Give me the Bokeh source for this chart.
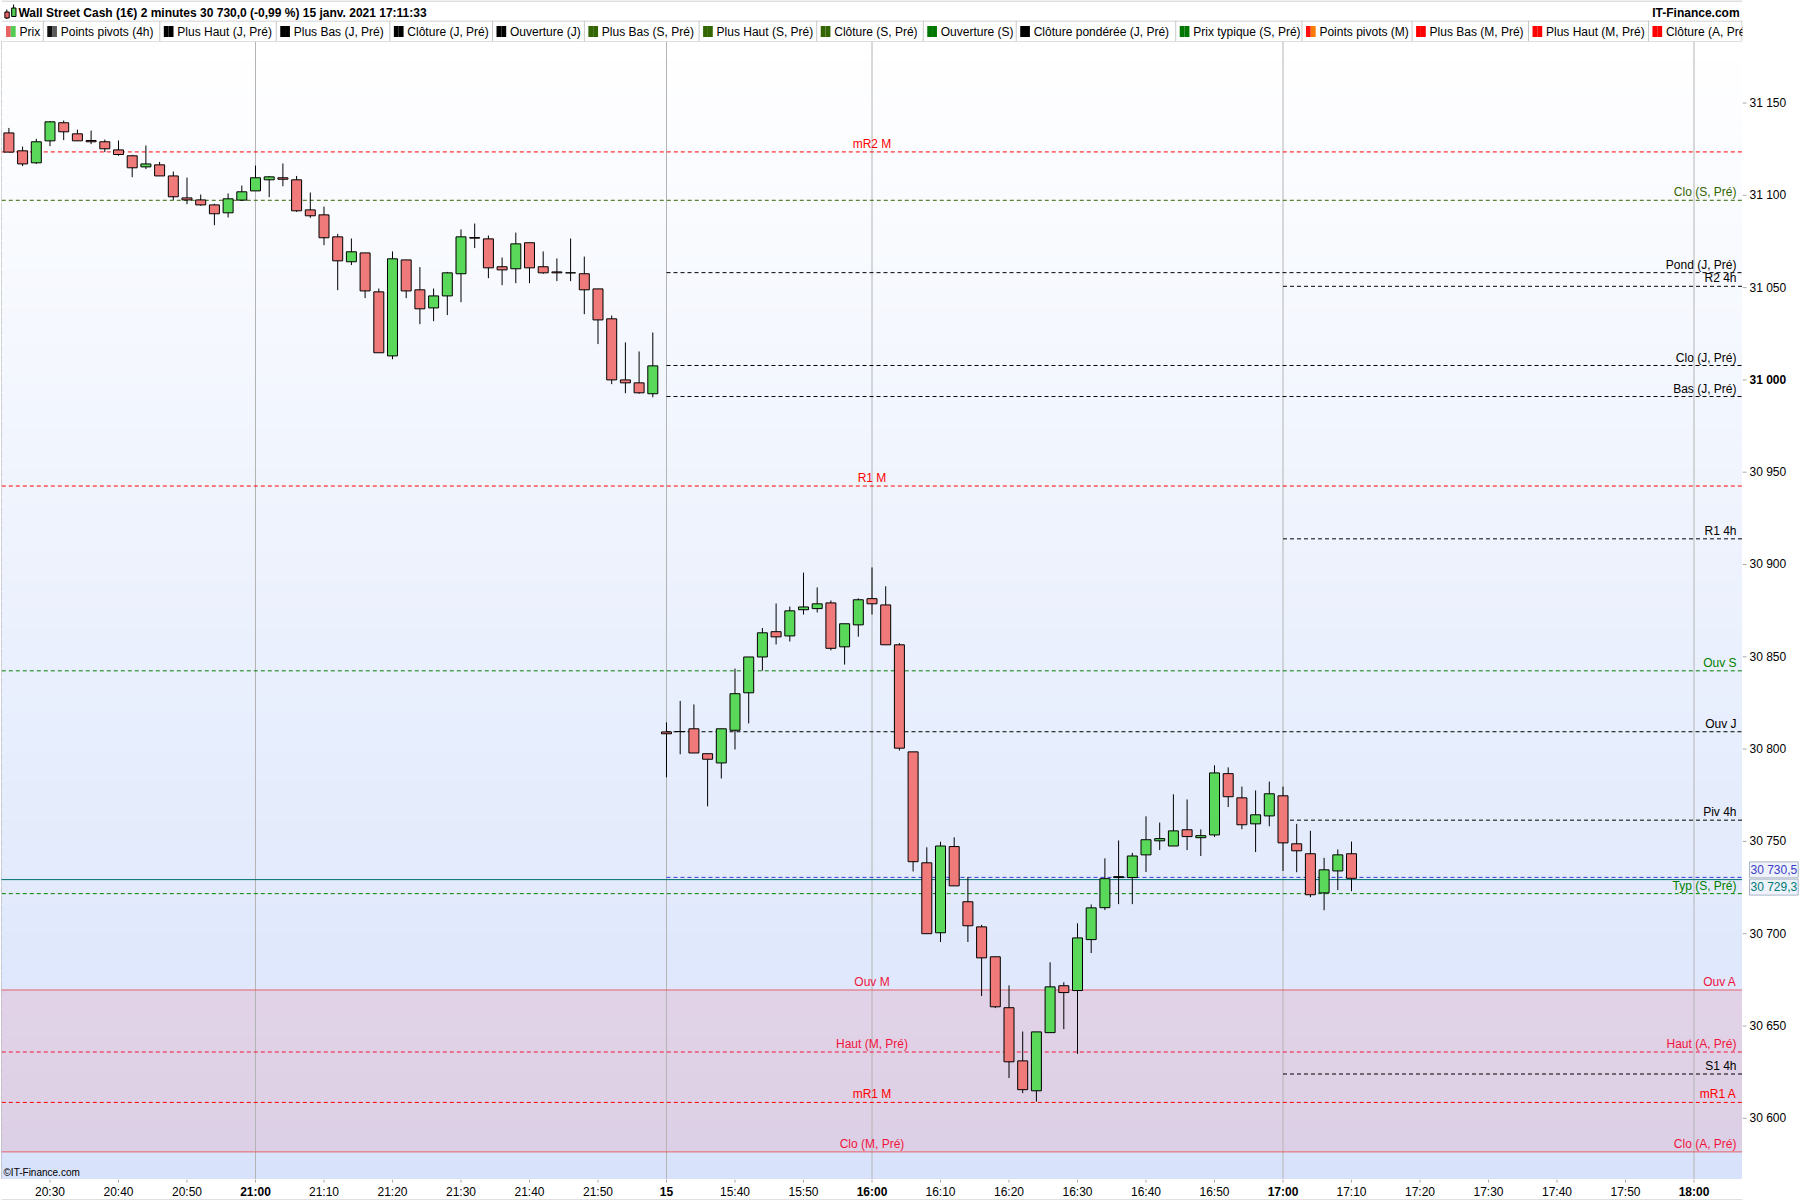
import numpy as np
from bokeh.plotting import figure
from bokeh.layouts import column, row
from bokeh.models import Range1d, ColumnDataSource
from bokeh.core.properties import value
from bokeh.embed import file_html
from bokeh.resources import INLINE

FONT = value("Liberation Sans")

# ---------------- texts ----------------
TITLE = "Wall Street Cash (1€) 2 minutes 30 730,0 (-0,99 %) 15 janv. 2021 17:11:33"
SITE = "IT-Finance.com"
COPYRIGHT = "©IT-Finance.com"


def session(h, m, n):
    return [f"{(h * 60 + m + 2 * k) // 60:02d}:{(h * 60 + m + 2 * k) % 60:02d}" for k in range(n)]


# 2-minute bars: 14 Jan 20:24-21:58, then 15 Jan from 15:30
axis_times = session(20, 24, 48) + session(15, 30, 79)

# ---------------- candles (O/H/L/C) ----------------
opens = [31133.8, 31124.1, 31117.6, 31129.5, 31139.3, 31133.3, 31129.7, 31129.0, 31124.6, 31121.4,
         31115.4, 31116.5, 31110.5, 31098.6, 31097.5, 31094.8, 31090.5, 31097.4, 31102.4, 31108.4,
         31109.5, 31108.4, 31092.1, 31089.4, 31077.5, 31064.0, 31068.8, 31047.7, 31013.0, 31065.0,
         31048.8, 31039.0, 31045.5, 31057.5, 31077.1, 31076.4, 31061.3, 31060.2, 31074.3, 31061.3,
         31058.5, 31058.0, 31057.5, 31049.3, 31033.1, 31000.0, 30998.4, 30992.5,
         30809.3, 30809.5, 30811.0, 30797.5, 30792.5, 30810.2, 30830.5, 30849.9, 30863.6, 30861.3,
         30875.5, 30876.1, 30879.2, 30855.4, 30867.3, 30881.5, 30878.1, 30856.5, 30798.5, 30738.4,
         30700.5, 30747.2, 30717.3, 30703.7, 30687.5, 30659.9, 30631.1, 30614.9, 30646.4, 30671.8,
         30669.2, 30696.8, 30714.1, 30730.4, 30730.4, 30742.7, 30750.3, 30747.5, 30756.3, 30752.0,
         30753.5, 30786.7, 30773.6, 30759.5, 30763.8, 30774.7, 30748.7, 30743.3, 30722.1, 30734.0,
         30743.3]
highs = [31136.5, 31126.4, 31130.6, 31140.2, 31140.5, 31135.6, 31135.1, 31130.2, 31129.7, 31121.9,
         31127.0, 31118.1, 31112.9, 31109.6, 31100.4, 31095.4, 31101.0, 31105.3, 31116.1, 31110.5,
         31117.2, 31110.5, 31101.5, 31093.9, 31079.1, 31076.6, 31068.8, 31049.5, 31069.6, 31065.0,
         31061.1, 31049.5, 31058.5, 31081.5, 31084.7, 31078.2, 31066.3, 31079.8, 31074.3, 31069.6,
         31065.8, 31076.6, 31066.8, 31049.3, 31034.9, 31020.3, 31015.4, 31025.7,
         30814.5, 30826.1, 30824.2, 30797.5, 30811.0, 30843.6, 30849.9, 30865.6, 30878.9, 30877.2,
         30895.6, 30887.6, 30880.5, 30867.9, 30881.7, 30898.4, 30888.2, 30857.4, 30798.5, 30746.8,
         30749.8, 30752.2, 30730.6, 30704.8, 30687.5, 30672.0, 30647.0, 30646.8, 30684.5, 30673.7,
         30705.6, 30715.8, 30740.8, 30750.5, 30743.8, 30763.6, 30760.2, 30775.5, 30772.7, 30756.5,
         30791.2, 30790.1, 30779.7, 30777.6, 30782.4, 30779.7, 30759.5, 30755.7, 30741.1, 30745.6,
         30749.9]
lows = [31123.4, 31115.8, 31117.0, 31126.6, 31129.9, 31129.5, 31127.7, 31123.4, 31121.4, 31109.8,
        31114.2, 31110.4, 31097.5, 31095.2, 31094.3, 31083.8, 31088.0, 31097.2, 31102.4, 31099.0,
        31104.9, 31091.0, 31087.8, 31073.0, 31048.6, 31062.2, 31044.3, 31014.7, 31011.2, 31044.3,
        31030.2, 31031.8, 31035.1, 31042.1, 31071.4, 31055.1, 31051.3, 31052.4, 31052.4, 31057.5,
        31053.5, 31053.5, 31035.6, 31019.4, 30997.7, 30992.8, 30992.5, 30990.6,
        30784.7, 30797.2, 30797.9, 30769.0, 30784.1, 30799.8, 30813.9, 30842.5, 30856.7, 30858.3,
        30872.9, 30874.0, 30853.5, 30845.8, 30860.9, 30872.9, 30856.5, 30799.2, 30733.7, 30700.0,
        30695.5, 30725.9, 30695.5, 30666.2, 30659.7, 30621.8, 30613.6, 30609.0, 30646.4, 30648.3,
        30634.9, 30689.5, 30712.8, 30716.0, 30716.0, 30733.4, 30745.3, 30747.5, 30745.3, 30742.1,
        30752.4, 30768.6, 30756.6, 30744.2, 30758.2, 30734.0, 30733.3, 30719.8, 30712.7, 30723.6,
        30723.0]
closes = [31123.4, 31117.0, 31129.0, 31139.8, 31134.4, 31129.5, 31129.0, 31125.2, 31122.1, 31114.9,
          31117.0, 31110.5, 31099.2, 31097.5, 31094.8, 31090.0, 31098.1, 31101.9, 31109.5, 31110.0,
          31108.7, 31091.6, 31088.9, 31077.0, 31064.5, 31069.4, 31048.2, 31014.7, 31065.6, 31048.2,
          31038.5, 31045.5, 31058.0, 31077.5, 31076.8, 31060.7, 31059.6, 31073.7, 31060.7, 31058.0,
          31058.0, 31058.0, 31048.8, 31032.5, 31000.0, 30998.4, 30993.0, 31007.6,
          30808.3, 30809.5, 30797.9, 30794.5, 30811.0, 30830.0, 30849.9, 30863.0, 30860.8, 30874.9,
          30877.0, 30878.7, 30854.6, 30867.9, 30880.9, 30878.7, 30856.5, 30800.5, 30739.0, 30700.0,
          30747.5, 30725.9, 30704.3, 30686.9, 30660.4, 30630.6, 30615.5, 30646.8, 30671.2, 30668.1,
          30697.7, 30714.0, 30729.8, 30730.9, 30742.1, 30750.9, 30751.5, 30755.7, 30752.6, 30753.1,
          30787.1, 30774.2, 30759.0, 30764.4, 30775.8, 30749.2, 30744.9, 30721.1, 30734.6, 30742.7,
          30730.0]

# ---------------- x axis ticks ----------------
tick_times = ["20:30", "20:40", "20:50", "21:00", "21:10", "21:20", "21:30", "21:40", "21:50",
              "15:30", "15:40", "15:50", "16:00", "16:10", "16:20", "16:30", "16:40", "16:50",
              "17:00", "17:10", "17:20", "17:30", "17:40", "17:50", "18:00"]
tick_labels = ["20:30", "20:40", "20:50", "21:00", "21:10", "21:20", "21:30", "21:40", "21:50",
               "15", "15:40", "15:50", "16:00", "16:10", "16:20", "16:30", "16:40", "16:50",
               "17:00", "17:10", "17:20", "17:30", "17:40", "17:50", "18:00"]
major_tick_labels = ["21:00", "15", "16:00", "17:00", "18:00"]

# ---------------- y axis ticks ----------------
price_ticks = [30600, 30650, 30700, 30750, 30800, 30850, 30900, 30950, 31000, 31050, 31100, 31150]
major_price_ticks = [31000]

# ---------------- horizontal levels ----------------
level_values = [31123.5, 31097.3, 31058.1, 31050.7, 31007.8, 30991.0, 30942.5, 30913.9, 30842.4,
                30809.4, 30761.5, 30730.5, 30729.3, 30721.7, 30669.5, 30635.9, 30624.0, 30608.6,
                30581.8]
level_start = ["", "", "15:30", "17:00", "15:30", "15:30", "", "17:00", "",
               "15:30", "17:00", "15:30", "", "", "", "", "17:00", "",
               ""]
level_dashed = [True, True, True, True, True, True, True, True, True,
                True, True, True, False, True, False, True, True, True,
                False]
level_colors = ["#ff0000", "#336600", "#000000", "#000000", "#000000", "#000000", "#ff0000", "#000000",
                "#008000", "#000000", "#000000", "#3a3ad8", "#007070", "#008000", "#e8606a", "#f0143c",
                "#000000", "#ff0000", "#e8606a"]
level_right_labels = ["", "Clo (S, Pré)", "Pond (J, Pré)", "R2 4h", "Clo (J, Pré)", "Bas (J, Pré)", "",
                      "R1 4h", "Ouv S", "Ouv J", "Piv 4h", "", "", "Typ (S, Pré)", "Ouv A",
                      "Haut (A, Pré)", "S1 4h", "mR1 A", "Clo (A, Pré)"]
level_center_labels = ["mR2 M", "", "", "", "", "", "R1 M", "", "", "", "", "", "", "", "Ouv M",
                       "Haut (M, Pré)", "", "mR1 M", "Clo (M, Pré)"]
level_label_colors = ["#ff0000", "#336600", "#000000", "#000000", "#000000", "#000000", "#ff0000",
                      "#000000", "#008000", "#000000", "#000000", "#3a3ad8", "#007070", "#008000",
                      "#f0143c", "#f0143c", "#000000", "#ff0000", "#f0143c"]
center_label_time = "16:00"
zone_top_value = 30669.5      # Ouv M / Ouv A
zone_bottom_value = 30581.8   # Clo (M, Pré) / Clo (A, Pré)

price_boxes = ["30 730,5", "30 729,3"]
price_box_values = [30730.5, 30729.3]
price_box_colors = ["#3c3cc8", "#007a76"]

# ---------------- legend ----------------
legend_names = ["Prix", "Points pivots (4h)", "Plus Haut (J, Pré)", "Plus Bas (J, Pré)", "Clôture (J, Pré)",
                "Ouverture (J)", "Plus Bas (S, Pré)", "Plus Haut (S, Pré)", "Clôture (S, Pré)",
                "Ouverture (S)", "Clôture pondérée (J, Pré)", "Prix typique (S, Pré)",
                "Points pivots (M)", "Plus Bas (M, Pré)", "Plus Haut (M, Pré)", "Clôture (A, Pré)"]
legend_color_a = ["#e86464", "#111111", "#000000", "#000000", "#000000", "#000000", "#336600", "#336600",
                  "#336600", "#007700", "#000000", "#007700", "#ff1010", "#ff0000", "#ff0000", "#ff0000"]
legend_color_b = ["#52cc52", "#5a5a5a", "#000000", "#000000", "#000000", "#000000", "#336600", "#336600",
                  "#336600", "#007700", "#000000", "#007700", "#ff7a00", "#ff0000", "#ff0000", "#ff0000"]
# layout (page px): left edge of each legend cell
legend_cell_x = [0, 41.3, 157.9, 274.4, 388.1, 490.8, 582.7, 697.5, 815.2, 921.8, 1014.8, 1174.4,
                 1300.7, 1410.9, 1527.4, 1647.4]

# =====================================================================
W = 1800
AXIS_W = 58
MAIN_H = 1138


def make_fig(**kw):
    opts = dict(output_backend="svg", toolbar_location=None, x_axis_location=None,
                y_axis_location=None, min_border_left=0, min_border_right=0,
                min_border_top=0, min_border_bottom=0)
    opts.update(kw)
    f = figure(**opts)
    f.grid.grid_line_color = None
    f.outline_line_color = None
    f.background_fill_color = "white"
    f.border_fill_color = "white"
    return f


# ---------------- title row ----------------
tf = make_fig(width=W, height=20, x_range=Range1d(0, W), y_range=Range1d(20, 0))
tf.segment(x0=[0], y0=[0.5], x1=[W], y1=[0.5], line_color="#c0c0c0", line_width=1)
tf.segment(x0=[5.5], y0=[9], x1=[5.5], y1=[18.5], line_color="black", line_width=1)
tf.quad(left=[3.5], right=[8], top=[11.5], bottom=[17.5], fill_color="#e86464", line_color="black")
tf.segment(x0=[12.5], y0=[4], x1=[12.5], y1=[16.5], line_color="black", line_width=1)
tf.quad(left=[10.5], right=[15], top=[7.5], bottom=[16], fill_color="#52cc52", line_color="black")
tf.text(x=[17.5], y=[12], text=[TITLE], text_font=FONT, text_font_size="12px",
        text_font_style="bold", text_baseline="middle", text_align="left", text_color="black")
tf.text(x=[1797], y=[12], text=[SITE], text_font=FONT, text_font_size="12px",
        text_font_style="bold", text_baseline="middle", text_align="right", text_color="black")

# ---------------- legend row ----------------
lf = make_fig(width=W, height=21, x_range=Range1d(0, W - AXIS_W), y_range=Range1d(41, 20),
              min_border_right=AXIS_W)
lf.segment(x0=[0], y0=[20.5], x1=[W], y1=[20.5], line_color="#c4c4c4", line_width=1)
cells = np.array(legend_cell_x, dtype=float)
seps = list(cells[1:] + 0.5) + [1741.5]
lf.segment(x0=seps, y0=[20] * len(seps), x1=seps, y1=[41] * len(seps), line_color="#c8c8c8", line_width=1)
lf.quad(left=cells + 4.5, right=cells + 9.3, top=[25.5] * len(cells), bottom=[36.5] * len(cells),
        fill_color=legend_color_a, line_color=None)
lf.quad(left=cells + 9.3, right=cells + 14.2, top=[25.5] * len(cells), bottom=[36.5] * len(cells),
        fill_color=legend_color_b, line_color=None)
lf.text(x=cells + 18, y=[31.5] * len(cells), text=legend_names, text_font=FONT, text_font_size="12px",
        text_baseline="middle", text_align="left", text_color="black")

# ---------------- main plot ----------------
x_rng = Range1d(-0.54, 126.54)
y_rng = Range1d(30566.84, 31183.32)
main = make_fig(width=W - AXIS_W, height=MAIN_H, x_range=x_rng, y_range=y_rng, min_border_left=1)
main.outline_line_color = "#a8a8a8"

xl, xr = x_rng.start - 1, x_rng.end + 1

# background gradient (white -> light blue)
n = 120
edges = np.linspace(y_rng.end, y_rng.start, n + 1)
c_top = np.array([255, 255, 255])
c_bot = np.array([216, 227, 251])
grad = ["#%02x%02x%02x" % tuple(int(round(v)) for v in c_top + (c_bot - c_top) * t)
        for t in (np.arange(n) + 0.5) / n]
main.quad(left=[xl] * n, right=[xr] * n, top=edges[:-1], bottom=edges[1:], fill_color=grad,
          line_color=grad, line_width=1)

# monthly zone
main.quad(left=[xl], right=[xr], top=[zone_top_value], bottom=[zone_bottom_value],
          fill_color="#f06070", fill_alpha=0.15, line_color=None)

# vertical grid at session / hour boundaries
grid_x = [axis_times.index(tick_times[tick_labels.index(lbl)]) for lbl in major_tick_labels]
main.segment(x0=grid_x, y0=[y_rng.start] * len(grid_x), x1=grid_x, y1=[y_rng.end] * len(grid_x),
             line_color="#b4b4b4", line_width=1)

# levels
lv_x0 = [xl if s == "" else axis_times.index(s) for s in level_start]
for dashed in (True, False):
    sel = [i for i in range(len(level_values)) if level_dashed[i] == dashed]
    src = ColumnDataSource(dict(x0=[lv_x0[i] for i in sel], x1=[xr] * len(sel),
                                y=[level_values[i] for i in sel], c=[level_colors[i] for i in sel]))
    main.segment(x0="x0", y0="y", x1="x1", y1="y", line_color="c", line_width=1, source=src,
                 line_dash="4 3" if dashed else "solid")

# candles
idx = list(range(len(opens)))
up = [c >= o for o, c in zip(opens, closes)]
csrc = ColumnDataSource(dict(
    x=idx, low=lows, high=highs,
    top=[max(o, c) for o, c in zip(opens, closes)],
    bottom=[min(o, c) for o, c in zip(opens, closes)],
    color=["#5ad85a" if u else "#f07a7a" for u in up]))
main.segment(x0="x", y0="low", x1="x", y1="high", source=csrc, line_color="black", line_width=1)
main.vbar(x="x", width=0.73, top="top", bottom="bottom", fill_color="color", line_color="black",
          line_width=1, source=csrc)

# level labels (sit just above their line)
r_sel = [i for i, t in enumerate(level_right_labels) if t]
main.text(x=[x_rng.end] * len(r_sel), y=[level_values[i] for i in r_sel],
          text=[level_right_labels[i] for i in r_sel], text_color=[level_label_colors[i] for i in r_sel],
          text_font=FONT, text_font_size="12px", text_align="right", text_baseline="middle",
          x_offset=-6, y_offset=-8)
c_sel = [i for i, t in enumerate(level_center_labels) if t]
cx = axis_times.index(center_label_time)
main.text(x=[cx] * len(c_sel), y=[level_values[i] for i in c_sel],
          text=[level_center_labels[i] for i in c_sel], text_color=[level_label_colors[i] for i in c_sel],
          text_font=FONT, text_font_size="12px", text_align="center", text_baseline="middle",
          y_offset=-8)

main.text(x=[x_rng.start], y=[y_rng.start], text=[COPYRIGHT], text_font=FONT, text_font_size="10px",
          text_align="left", text_baseline="middle", x_offset=2, y_offset=-7, text_color="black")

# ---------------- right price axis ----------------
ax = make_fig(width=AXIS_W, height=MAIN_H, x_range=Range1d(0, AXIS_W), y_range=y_rng)
ax.segment(x0=[0] * len(price_ticks), y0=price_ticks, x1=[4] * len(price_ticks), y1=price_ticks,
           line_color="#a8a8a8", line_width=1)
fmt = [f"{v:,}".replace(",", " ") for v in price_ticks]
minor = [i for i, v in enumerate(price_ticks) if v not in major_price_ticks]
major = [i for i, v in enumerate(price_ticks) if v in major_price_ticks]
ax.text(x=[7] * len(minor), y=[price_ticks[i] for i in minor], text=[fmt[i] for i in minor],
        text_font=FONT, text_font_size="12px", text_baseline="middle", text_align="left",
        text_color="black")
ax.text(x=[7] * len(major), y=[price_ticks[i] for i in major], text=[fmt[i] for i in major],
        text_font=FONT, text_font_size="12px", text_font_style="bold", text_baseline="middle",
        text_align="left", text_color="black")
bsrc = ColumnDataSource(dict(x=[7, 7], y=price_box_values, t=price_boxes, c=price_box_colors,
                             dy=[-7.5, 7.5]))
ax.text(x="x", y="y", text="t", text_color="c", y_offset="dy", source=bsrc, text_font=FONT,
        text_font_size="12px", text_baseline="middle", text_align="left",
        background_fill_color="#eef2fb", border_line_color="#aab4c6", padding=1)

# ---------------- bottom time axis ----------------
ft = make_fig(width=W, height=21, x_range=x_rng, y_range=Range1d(21, 0), min_border_left=1,
              min_border_right=AXIS_W)
ft.segment(x0=[x_rng.start], y0=[20.5], x1=[x_rng.end], y1=[20.5], line_color="#c0c0c0", line_width=1)
tick_x = [axis_times.index(t) for t in tick_times]
ft.segment(x0=tick_x, y0=[0] * len(tick_x), x1=tick_x, y1=[3] * len(tick_x), line_color="#a8a8a8",
           line_width=1)
mi = [i for i, l in enumerate(tick_labels) if l not in major_tick_labels]
ma = [i for i, l in enumerate(tick_labels) if l in major_tick_labels]
ft.text(x=[tick_x[i] for i in mi], y=[12] * len(mi), text=[tick_labels[i] for i in mi], text_font=FONT,
        text_font_size="12px", text_align="center", text_baseline="middle", text_color="black")
ft.text(x=[tick_x[i] for i in ma], y=[12] * len(ma), text=[tick_labels[i] for i in ma], text_font=FONT,
        text_font_size="12px", text_font_style="bold", text_align="center", text_baseline="middle",
        text_color="black")

layout = column(tf, lf, row(main, ax), ft)
open("out.html", "w").write(file_html(layout, INLINE))
